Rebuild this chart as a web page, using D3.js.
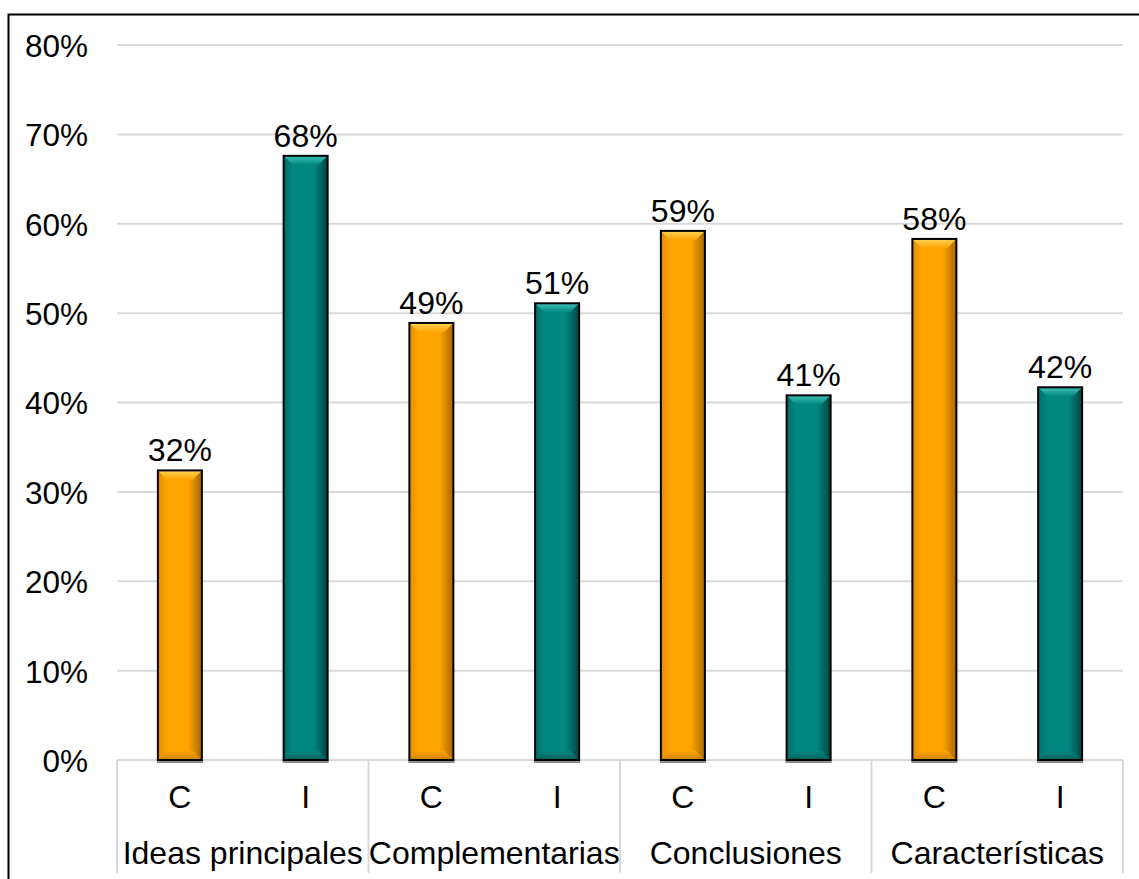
<!DOCTYPE html>
<html>
<head>
<meta charset="utf-8">
<script src="https://cdn.jsdelivr.net/npm/d3@7"></script>
<style>
  html, body { margin: 0; padding: 0; background: #fff; }
  svg { display: block; }
  text { font-family: "Liberation Sans", Arial, sans-serif; fill: #000; }
</style>
</head>
<body>
<svg id="chart" width="1139" height="879"></svg>
<script>
// Groups, sub-categories and shares (fraction of 1)
const groups = ["Ideas principales", "Complementarias", "Conclusiones", "Características"];
const subCats = ["C", "I"];
const valuesC = [0.324, 0.489, 0.592, 0.583];
const valuesI = [0.676, 0.511, 0.408, 0.417];
const yTicks = [0, 0.1, 0.2, 0.3, 0.4, 0.5, 0.6, 0.7, 0.8];

const palette = {
  C: { base: "#FFA500", light: "#FFD35A", edgeL: "#E08E00", edgeR: "#A86800", bottom: "#C97F00" },
  I: { base: "#008782", light: "#3FC2BA", edgeL: "#006E6A", edgeR: "#004541", bottom: "#005E5A" }
};

const rows = [];
groups.forEach((g, i) => {
  rows.push({ group: g, sub: "C", value: valuesC[i] });
  rows.push({ group: g, sub: "I", value: valuesI[i] });
});

const svg = d3.select("#chart");
const plot = { left: 117, right: 1123, top: 45, bottom: 760 };

const y = d3.scaleLinear().domain([0, 0.8]).range([plot.bottom, plot.top]);
const xGroup = d3.scaleBand().domain(groups).range([plot.left, plot.right]).padding(0);
const xSub = d3.scaleBand().domain(subCats).range([0, xGroup.bandwidth()]).padding(0);
const barW = 44;
const bevel = 9;

// Outer frame
svg.append("rect")
  .attr("x", 8.5).attr("y", 14.5)
  .attr("width", 1200).attr("height", 1000)
  .attr("fill", "#fff").attr("stroke", "#000").attr("stroke-width", 2);

// Gradients for bar bodies and bevels
const defs = svg.append("defs");
subCats.forEach(s => {
  const p = palette[s];
  const body = defs.append("linearGradient").attr("id", "body" + s)
    .attr("x1", "0%").attr("x2", "100%").attr("y1", "0%").attr("y2", "0%");
  body.append("stop").attr("offset", "0%").attr("stop-color", p.edgeL);
  body.append("stop").attr("offset", "22%").attr("stop-color", p.base);
  body.append("stop").attr("offset", "68%").attr("stop-color", p.base);
  body.append("stop").attr("offset", "100%").attr("stop-color", p.edgeR);
  const top = defs.append("linearGradient").attr("id", "top" + s)
    .attr("x1", "0%").attr("x2", "0%").attr("y1", "0%").attr("y2", "100%");
  top.append("stop").attr("offset", "0%").attr("stop-color", p.light);
  top.append("stop").attr("offset", "100%").attr("stop-color", p.base);
  const bot = defs.append("linearGradient").attr("id", "bot" + s)
    .attr("x1", "0%").attr("x2", "0%").attr("y1", "0%").attr("y2", "100%");
  bot.append("stop").attr("offset", "0%").attr("stop-color", p.base);
  bot.append("stop").attr("offset", "100%").attr("stop-color", p.bottom);
});

// Horizontal gridlines
svg.append("g").selectAll("line").data(yTicks).join("line")
  .attr("x1", plot.left).attr("x2", plot.right)
  .attr("y1", d => y(d)).attr("y2", d => y(d))
  .attr("stroke", "#d9d9d9").attr("stroke-width", 2);

// Y tick labels
const fmt = d3.format(".0%");
svg.append("g").selectAll("text").data(yTicks).join("text")
  .attr("x", 88).attr("y", d => y(d))
  .attr("dy", "0.38em")
  .attr("text-anchor", "end")
  .attr("font-size", 31.5)
  .text(d => fmt(d));

// Category axis separators
const seps = groups.map(g => xGroup(g)).concat([plot.right]);
svg.append("g").selectAll("line").data(seps).join("line")
  .attr("x1", d => d).attr("x2", d => d)
  .attr("y1", plot.bottom).attr("y2", 873)
  .attr("stroke", "#d9d9d9").attr("stroke-width", 2);

// Bars
const barX = d => xGroup(d.group) + xSub(d.sub) + xSub.bandwidth() / 2 - barW / 2;
const bars = svg.append("g").selectAll("g").data(rows).join("g")
  .attr("transform", d => `translate(${barX(d)},0)`);

bars.append("rect")
  .attr("x", -1).attr("y", plot.bottom - 1)
  .attr("width", barW + 2).attr("height", 4)
  .attr("fill", "#8a8a8a");

bars.append("rect")
  .attr("x", 0).attr("y", d => y(d.value))
  .attr("width", barW).attr("height", d => y(0) - y(d.value))
  .attr("fill", d => `url(#body${d.sub})`);

bars.append("path")
  .attr("d", d => {
    const t = y(d.value);
    return `M0,${t}L${barW},${t}L${barW - bevel},${t + bevel}L${bevel},${t + bevel}Z`;
  })
  .attr("fill", d => `url(#top${d.sub})`);

bars.append("path")
  .attr("d", d => {
    const b = y(0);
    return `M0,${b}L${barW},${b}L${barW - bevel},${b - bevel}L${bevel},${b - bevel}Z`;
  })
  .attr("fill", d => `url(#bot${d.sub})`);

bars.append("rect")
  .attr("x", 0).attr("y", d => y(d.value))
  .attr("width", barW).attr("height", d => y(0) - y(d.value))
  .attr("fill", "none").attr("stroke", "#000").attr("stroke-width", 2);

// Value labels
bars.append("text")
  .attr("x", barW / 2).attr("y", d => y(d.value) - 9)
  .attr("text-anchor", "middle")
  .attr("font-size", 32)
  .text(d => fmt(d.value));

// Sub-category labels
svg.append("g").selectAll("text").data(rows).join("text")
  .attr("x", d => xGroup(d.group) + xSub(d.sub) + xSub.bandwidth() / 2)
  .attr("y", 808)
  .attr("text-anchor", "middle")
  .attr("font-size", 32)
  .text(d => d.sub);

// Group labels
svg.append("g").selectAll("text").data(groups).join("text")
  .attr("x", g => xGroup(g) + xGroup.bandwidth() / 2)
  .attr("y", 864)
  .attr("text-anchor", "middle")
  .attr("font-size", 32)
  .text(g => g);
</script>
</body>
</html>
